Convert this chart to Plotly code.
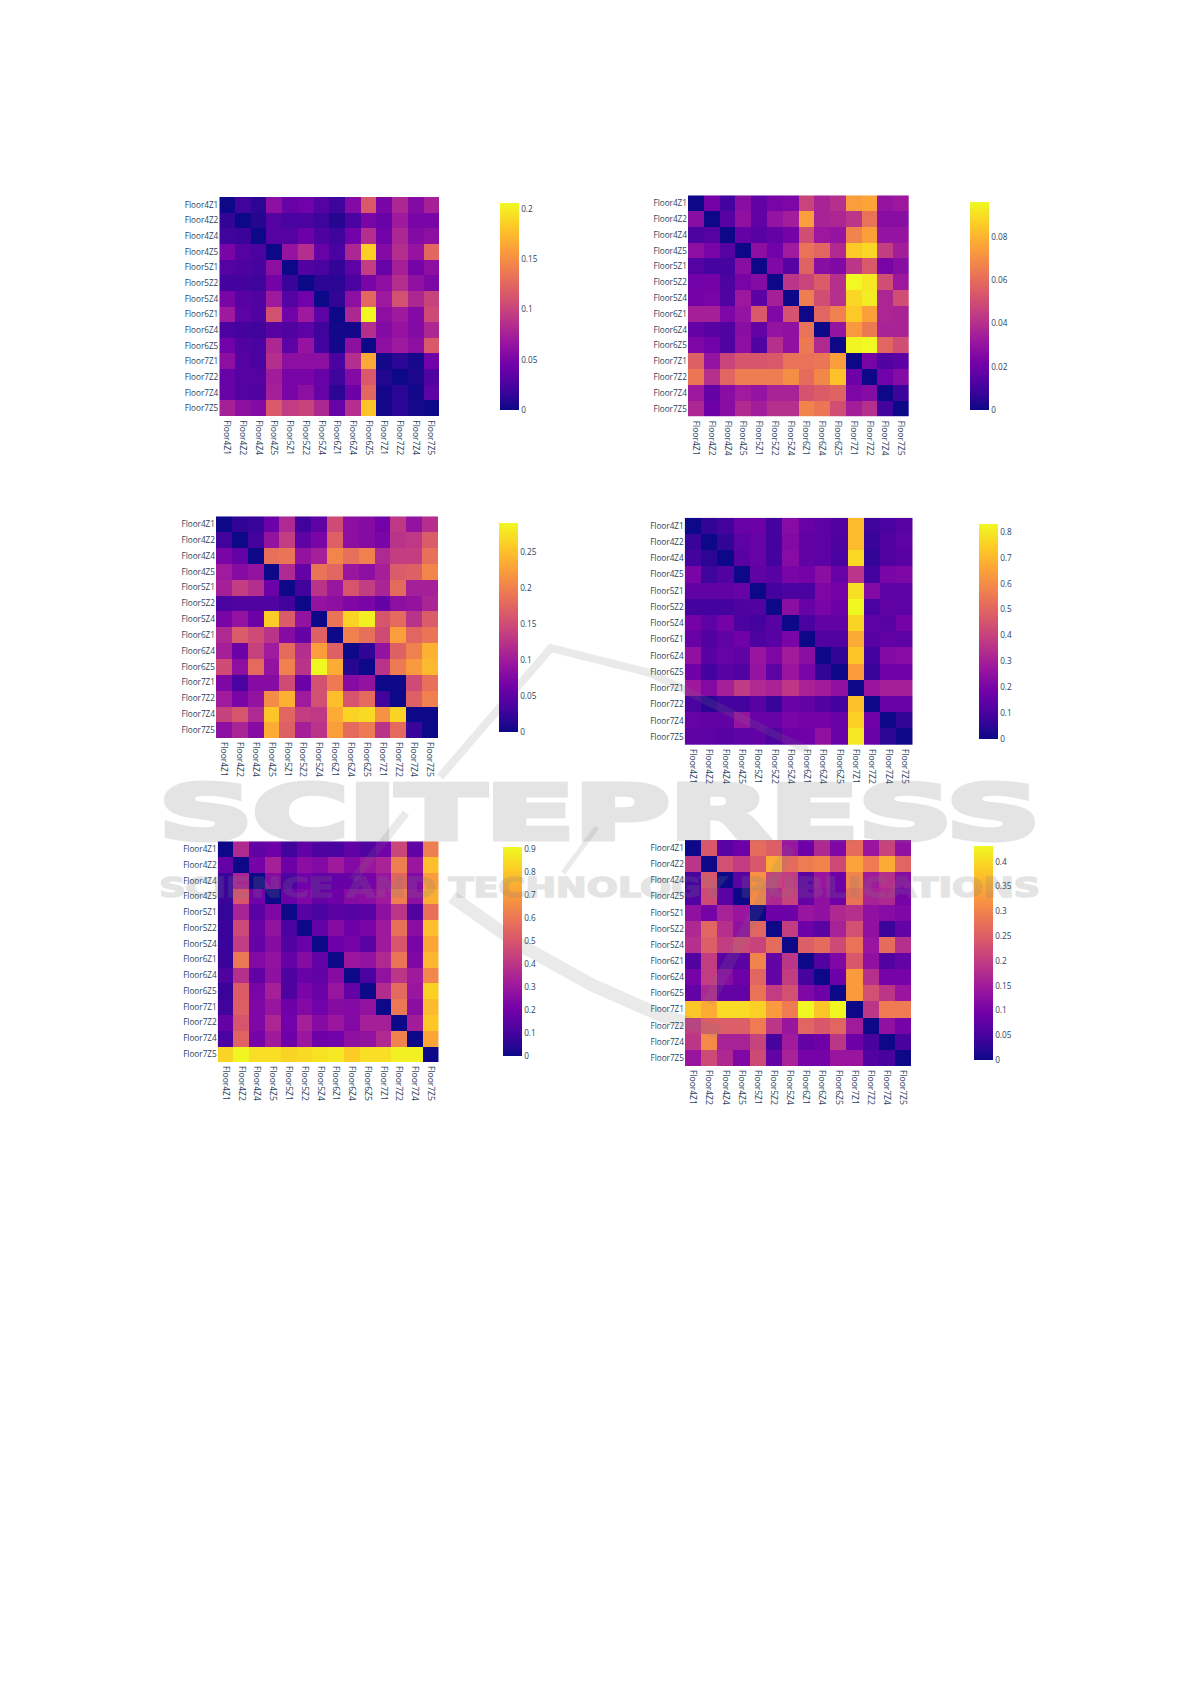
import plotly.graph_objects as go

W, H = 1191, 1684

zones = ["Floor4Z1", "Floor4Z2", "Floor4Z4", "Floor4Z5", "Floor5Z1", "Floor5Z2", "Floor5Z4",
         "Floor6Z1", "Floor6Z4", "Floor6Z5", "Floor7Z1", "Floor7Z2", "Floor7Z4", "Floor7Z5"]

matrix_a = [
    [0, .02, .012, .06, .04, .045, .03, .02, .055, .115, .05, .08, .055, .075],
    [.015, 0, .01, .03, .025, .025, .02, .01, .025, .05, .04, .07, .05, .05],
    [.02, .018, 0, .03, .03, .042, .027, .02, .045, .085, .045, .08, .055, .06],
    [.05, .03, .025, 0, .065, .085, .04, .025, .08, .185, .055, .085, .065, .125],
    [.03, .027, .023, .06, 0, .028, .025, .015, .035, .095, .04, .075, .048, .06],
    [.022, .022, .02, .047, .018, 0, .012, .012, .025, .05, .06, .085, .062, .052],
    [.05, .033, .028, .07, .03, .045, 0, .015, .06, .125, .07, .11, .08, .1],
    [.07, .035, .028, .11, .045, .07, .035, 0, .08, .205, .06, .07, .055, .105],
    [.025, .022, .02, .032, .028, .035, .02, .002, .003, .085, .055, .065, .055, .08],
    [.045, .028, .025, .08, .035, .065, .022, .002, .06, 0, .06, .07, .06, .115],
    [.06, .03, .025, .085, .06, .06, .06, .025, .085, .165, .002, .012, .004, .045],
    [.04, .03, .03, .072, .05, .05, .04, .02, .055, .115, .008, 0, .006, .028],
    [.04, .03, .028, .075, .05, .06, .04, .012, .042, .125, .003, .012, .002, .035],
    [.075, .06, .055, .115, .095, .1, .08, .04, .085, .18, .003, .012, .004, 0],
]
matrix_b = [
    [0, .022, .01, .027, .017, .023, .024, .047, .036, .04, .074, .076, .03, .032],
    [.027, 0, .015, .029, .017, .03, .034, .074, .036, .037, .042, .062, .027, .027],
    [.012, .014, 0, .018, .015, .018, .022, .05, .032, .03, .067, .075, .03, .03],
    [.028, .023, .014, 0, .028, .021, .033, .062, .058, .038, .085, .088, .045, .034],
    [.014, .011, .011, .027, 0, .025, .015, .057, .027, .025, .042, .054, .023, .027],
    [.021, .022, .012, .023, .026, 0, .042, .047, .055, .04, .096, .092, .05, .032],
    [.022, .023, .013, .032, .016, .035, 0, .065, .05, .04, .088, .093, .037, .05],
    [.035, .035, .024, .03, .054, .025, .052, 0, .058, .066, .085, .075, .037, .036],
    [.018, .015, .013, .027, .018, .03, .029, .062, 0, .03, .073, .064, .036, .036],
    [.024, .021, .013, .028, .013, .04, .029, .064, .038, 0, .095, .096, .058, .05],
    [.056, .03, .047, .053, .053, .054, .062, .062, .063, .074, 0, .023, .013, .016],
    [.063, .04, .058, .065, .065, .065, .07, .06, .068, .083, .02, 0, .021, .026],
    [.032, .018, .027, .033, .03, .036, .036, .052, .055, .057, .024, .026, 0, .009],
    [.037, .02, .027, .038, .034, .04, .04, .067, .063, .05, .034, .04, .01, 0],
]
matrix_c = [
    [0, .02, .025, .06, .115, .03, .05, .15, .085, .08, .065, .13, .09, .12],
    [.03, 0, .03, .09, .135, .05, .07, .17, .085, .08, .07, .125, .13, .165],
    [.07, .055, 0, .185, .19, .09, .105, .205, .185, .2, .115, .135, .135, .185],
    [.1, .08, .09, 0, .115, .055, .19, .175, .095, .085, .105, .165, .17, .205],
    [.105, .135, .12, .06, 0, .03, .125, .095, .16, .135, .11, .18, .105, .105],
    [.035, .04, .04, .04, .03, 0, .09, .085, .075, .07, .055, .085, .09, .11],
    [.07, .09, .06, .26, .165, .09, 0, .19, .265, .285, .16, .18, .125, .165],
    [.115, .165, .15, .125, .08, .055, .17, 0, .2, .185, .15, .225, .175, .19],
    [.105, .06, .14, .1, .18, .12, .225, .17, 0, .02, .09, .17, .2, .24],
    [.15, .085, .18, .09, .2, .125, .29, .235, .015, 0, .125, .195, .22, .245],
    [.075, .035, .08, .08, .15, .06, .155, .195, .08, .09, 0, 0, .15, .185],
    [.1, .07, .09, .21, .24, .1, .155, .25, .16, .18, .03, 0, .17, .2],
    [.14, .16, .115, .255, .175, .135, .13, .235, .265, .27, .215, .265, 0, 0],
    [.085, .11, .08, .235, .17, .105, .125, .225, .18, .195, .125, .18, .025, 0],
]
matrix_d = [
    [0, .06, .09, .16, .17, .09, .23, .16, .14, .12, .71, .08, .1, .13],
    [.07, 0, .06, .14, .16, .09, .22, .15, .14, .11, .71, .07, .12, .14],
    [.09, .05, 0, .13, .16, .09, .23, .15, .14, .1, .77, .06, .12, .13],
    [.2, .08, .12, 0, .15, .13, .2, .19, .24, .16, .36, .09, .2, .21],
    [.15, .15, .15, .16, 0, .09, .1, .1, .21, .19, .78, .22, .14, .14],
    [.09, .09, .09, .11, .12, 0, .24, .16, .2, .17, .83, .1, .15, .14],
    [.19, .14, .19, .1, .09, .13, 0, .1, .15, .15, .76, .14, .13, .19],
    [.16, .12, .15, .18, .11, .13, .2, 0, .12, .12, .67, .13, .15, .14],
    [.25, .13, .16, .15, .27, .21, .29, .24, 0, .06, .73, .09, .22, .23],
    [.18, .09, .13, .12, .26, .14, .27, .2, .06, 0, .64, .07, .18, .18],
    [.28, .22, .3, .38, .33, .31, .37, .31, .29, .25, 0, .27, .3, .3],
    [.1, .05, .09, .09, .13, .07, .16, .15, .12, .09, .72, 0, .16, .16],
    [.16, .15, .15, .26, .16, .16, .2, .19, .19, .16, .75, .18, 0, .06],
    [.15, .14, .13, .14, .15, .11, .17, .18, .25, .16, .8, .16, .05, 0],
]
matrix_e = [
    [0, .36, .16, .19, .09, .16, .12, .11, .16, .13, .2, .45, .16, .62],
    [.17, 0, .21, .33, .19, .26, .24, .31, .24, .3, .34, .62, .3, .78],
    [.08, .34, 0, .25, .12, .2, .16, .17, .18, .21, .29, .55, .24, .7],
    [.08, .5, .2, 0, .18, .23, .17, .19, .25, .26, .31, .62, .27, .74],
    [.07, .34, .15, .23, 0, .14, .11, .15, .14, .15, .27, .4, .13, .58],
    [.08, .46, .18, .28, .11, 0, .17, .25, .19, .22, .31, .58, .26, .78],
    [.08, .42, .17, .25, .13, .18, 0, .19, .21, .15, .31, .5, .22, .72],
    [.08, .6, .24, .28, .17, .25, .17, 0, .3, .28, .36, .59, .23, .76],
    [.12, .38, .16, .27, .12, .18, .16, .25, 0, .11, .28, .4, .31, .64],
    [.08, .52, .22, .33, .12, .22, .18, .29, .17, 0, .37, .56, .3, .82],
    [.09, .53, .23, .29, .19, .24, .2, .25, .24, .28, 0, .6, .26, .77],
    [.17, .5, .23, .35, .2, .33, .25, .3, .24, .33, .33, 0, .32, .8],
    [.11, .54, .21, .31, .19, .3, .19, .2, .27, .28, .36, .63, 0, .72],
    [.83, .9, .85, .85, .83, .84, .86, .87, .81, .85, .85, .89, .89, 0],
]
matrix_f = [
    [0, .24, .07, .09, .27, .25, .14, .09, .17, .11, .27, .14, .21, .13],
    [.19, 0, .23, .2, .24, .35, .27, .29, .3, .22, .34, .29, .35, .26],
    [.05, .24, 0, .07, .32, .21, .2, .07, .14, .09, .3, .15, .18, .12],
    [.06, .22, .07, 0, .31, .17, .21, .08, .13, .09, .28, .16, .17, .1],
    [.13, .1, .16, .14, 0, .09, .09, .14, .13, .17, .18, .13, .12, .11],
    [.17, .26, .18, .13, .26, 0, .2, .09, .07, .16, .23, .13, .04, .08],
    [.18, .25, .2, .22, .21, .27, 0, .25, .27, .22, .28, .14, .27, .18],
    [.06, .2, .07, .07, .3, .08, .19, 0, .06, .11, .24, .13, .06, .08],
    [.1, .2, .12, .09, .26, .08, .2, .05, 0, .09, .33, .18, .1, .1],
    [.08, .17, .08, .08, .28, .2, .23, .11, .09, 0, .33, .23, .19, .14],
    [.38, .35, .4, .4, .39, .33, .29, .43, .38, .43, 0, .19, .29, .29],
    [.2, .25, .25, .25, .29, .19, .14, .26, .24, .26, .15, 0, .13, .1],
    [.19, .31, .16, .16, .21, .05, .15, .08, .09, .19, .09, .05, 0, .05],
    [.14, .22, .17, .11, .22, .08, .16, .1, .1, .14, .14, .06, .05, 0],
]

# z, zmax, tick step, plot box (left, right, top, bottom px), colorbar box (left, top, bottom px)
panels = [
    (matrix_a, .206, .05, (219.3, 439, 197, 416.3), (500, 203, 410.3)),
    (matrix_b, .096, .02, (688, 908.7, 195.3, 416.7), (970, 202, 410)),
    (matrix_c, .291, .05, (216, 438, 516.3, 738), (499.3, 522.7, 731.7)),
    (matrix_d, .832, .1, (684.7, 912.7, 517.7, 745), (979, 523.7, 739)),
    (matrix_e, .909, .1, (217.7, 438.7, 841.3, 1062), (502.7, 847.3, 1056)),
    (matrix_f, .432, .05, (685, 911, 840, 1066), (973.7, 846, 1059.7)),
]

FONT = dict(family="Open Sans, sans-serif", size=8.2, color="#2a3f5f")
XFONT = dict(family="Open Sans, sans-serif", size=8.5, color="#2a3f5f")
INK = "rgba(125,125,125,0.2)"
LOGO = "rgba(125,125,125,0.16)"

fig = go.Figure()
layout = {}
for i, (z, zmax, step, box, cb) in enumerate(panels, start=1):
    l, r, t, b = box
    cl, ct, cbot = cb
    fig.add_trace(go.Heatmap(
        z=z, x=zones, y=zones, zmin=0, zmax=zmax, colorscale="Plasma",
        xaxis=f"x{i}", yaxis=f"y{i}",
        colorbar=dict(
            x=cl / W, xanchor="left", xpad=0, y=1 - ct / H, yanchor="top", ypad=0,
            thicknessmode="pixels", thickness=18.5, lenmode="pixels", len=cbot - ct,
            tick0=0, dtick=step, outlinewidth=0, tickfont=FONT, ticks="",
        ),
    ))
    layout[f"xaxis{i}"] = dict(domain=[l / W, r / W], anchor=f"y{i}", tickangle=90, dtick=1,
                               tickfont=XFONT, showgrid=False, zeroline=False, ticks="",
                               automargin=False, side="bottom", ticklabelstandoff=3)
    layout[f"yaxis{i}"] = dict(domain=[1 - b / H, 1 - t / H], anchor=f"x{i}", autorange="reversed",
                               dtick=1, tickfont=FONT, showgrid=False, zeroline=False, ticks="",
                               automargin=False)


def px(x, y):
    return f"{x / W:.5f} {1 - y / H:.5f}"


def stroke(points, width):
    d = "M " + " L ".join(px(x, y) for x, y in points)
    return dict(type="path", xref="paper", yref="paper", path=d, layer="above",
                line=dict(color=LOGO, width=width))


shapes = [
    stroke([(440, 777), (551, 648), (650, 673), (731, 713), (807, 750)], 8),
    stroke([(406, 813), (353, 880)], 8),
    stroke([(597, 827), (563, 873)], 5),
    stroke([(452, 897), (520, 945), (592, 985), (660, 1015), (720, 1032)], 13),
    stroke([(790, 847), (708, 1003)], 12),
]

annotations = [
    dict(text="SCITEPRESS", x=599.5 / W, y=1 - 813 / H, xref="paper", yref="paper",
         xanchor="center", yanchor="middle", showarrow=False,
         font=dict(family="DejaVu Sans", size=74, color=INK, weight=700)),
    dict(text="SCIENCE AND TECHNOLOGY PUBLICATIONS", x=599.5 / W, y=1 - 888 / H, xref="paper", yref="paper",
         xanchor="center", yanchor="middle", showarrow=False,
         font=dict(family="DejaVu Sans", size=26, color=INK, weight=700)),
]

fig.update_layout(
    width=W, height=H, margin=dict(l=0, r=0, t=0, b=0),
    paper_bgcolor="white", plot_bgcolor="white", showlegend=False,
    shapes=shapes, annotations=annotations, **layout,
)

post = """
document.body.style.margin='0';
document.querySelectorAll('.annotation-text').forEach(function(el){
  var big = el.textContent === 'SCITEPRESS';
  el.setAttribute('textLength','881');
  el.setAttribute('lengthAdjust','spacingAndGlyphs');
  el.style.fill = 'rgb(125,125,125)';
  el.style.fillOpacity = '1';
  el.style.stroke = 'rgb(125,125,125)';
  el.style.strokeWidth = big ? '5px' : '1.5px';
  el.style.opacity = '0.2';
});
"""
fig.write_html("out.html", post_script=post, config=dict(displayModeBar=False))
